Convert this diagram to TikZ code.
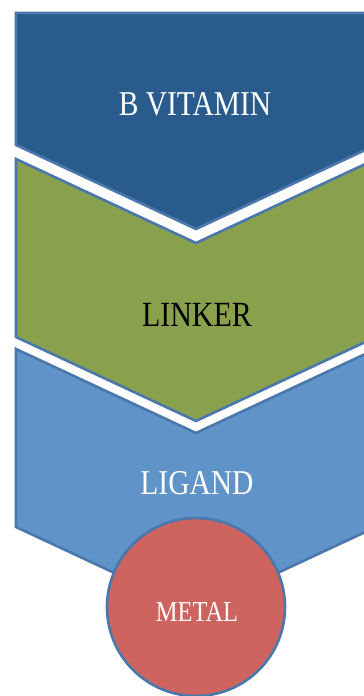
\documentclass[tikz,border=0pt]{standalone}
\usepackage{fontspec}
\setmainfont{Liberation Serif}
\usepackage{graphicx}
\usepackage{xcolor}
\usepackage{tikz}
\usetikzlibrary{positioning}

\definecolor{vitblue}{HTML}{295C8D}
\definecolor{linkgreen}{HTML}{89A14C}
\definecolor{ligblue}{HTML}{6094C8}
\definecolor{metalred}{HTML}{CD645F}
\definecolor{rimblue}{HTML}{4A78AD}

\newcommand{\tallcaps}[1]{\scalebox{1}[1.18]{#1}}

\begin{document}
\begin{tikzpicture}[
        x=1pt, y=-1pt,
        rim/.style={draw=rimblue, line width=2.6pt, line join=miter},
        lbl/.style={inner sep=0pt, text=white, font=\fontsize{29.5}{35}\selectfont}
    ]
    \useasboundingbox (0,0) rectangle (364,696);
    \clip (0,0) rectangle (364,696);
    % blocks, right side runs past the frame
    \path[rim, fill=vitblue] (16,13) -- (376,13) -- (376,145) -- (196,229) -- (16,145) -- cycle;
    \path[rim, fill=linkgreen] (16,159) -- (196,243) -- (376,159) -- (376,337) -- (196,421) -- (16,337) -- cycle;
    \path[rim, fill=ligblue] (16,349) -- (196,433) -- (376,349) -- (376,527) -- (196,611) -- (16,527) -- cycle;
    \node[circle, rim, fill=metalred, minimum size=178pt, inner sep=0pt] (metal) at (196,607) {};
    % labels
    \node[lbl] (vit) at (195,104) {\tallcaps{B VITAMIN}};
    \node[lbl, text=black, font=\fontsize{30}{36}\selectfont] (linker) at (197,314.5) {\tallcaps{LINKER}};
    \node[lbl] (ligand) at (197,483.5) {\tallcaps{LIGAND}};
    \node[lbl, font=\fontsize{24.5}{29}\selectfont] (metallbl) at (197,612) {\tallcaps{METAL}};
\end{tikzpicture}
\end{document}
